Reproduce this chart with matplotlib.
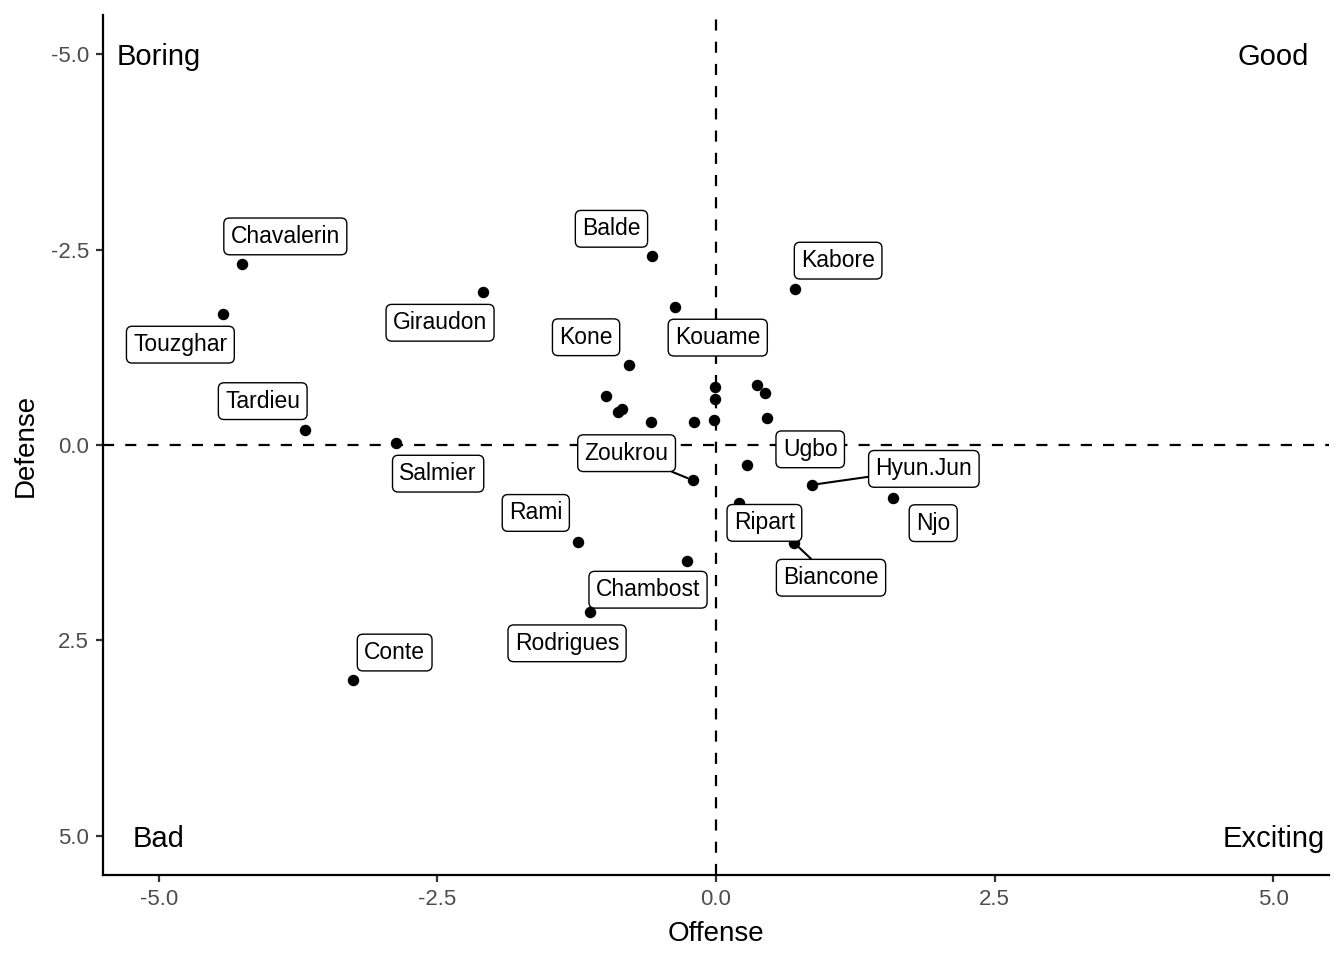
import matplotlib
matplotlib.use("Agg")
import matplotlib.pyplot as plt

plt.rcParams['font.family'] = ['Liberation Sans', 'DejaVu Sans']

# ---- data ----
players = ["Chavalerin", "Touzghar", "Tardieu", "Salmier", "Giraudon", "Balde",
           "Kabore", "Kouame", "Kone", "Zoukrou", "Ugbo", "Hyun.Jun", "Njo",
           "Ripart", "Biancone", "Rami", "Chambost", "Rodrigues", "Conte",
           "", "", "", "", "", "", "", "", "", "", ""]
offense = [-4.25, -4.42, -3.69, -2.87, -2.09, -0.57,
           0.71, -0.37, -0.78, -0.21, 0.28, 0.86, 1.59,
           0.21, 0.70, -1.24, -0.26, -1.13, -3.26,
           -0.99, -0.88, -0.84, -0.58, -0.20, -0.01, -0.01, -0.02, 0.37, 0.44, 0.46]
defense = [-2.31, -1.68, -0.19, -0.03, -1.96, -2.42,
           -2.00, -1.77, -1.02, 0.45, 0.26, 0.51, 0.68,
           0.74, 1.25, 1.24, 1.48, 2.14, 3.00,
           -0.63, -0.42, -0.46, -0.29, -0.29, -0.74, -0.59, -0.32, -0.77, -0.66, -0.34]

quadrant_text = ["Boring", "Good", "Bad", "Exciting"]
quadrant_x = [-5, 5, -5, 5]
quadrant_y = [-5, -5, 5, 5]

# label layout (pixel offsets from the point), and which labels get a leader segment
label_offsets = {
    "Chavalerin": (43, 29), "Touzghar": (-43, -30), "Tardieu": (-42, 30),
    "Salmier": (42, -30), "Giraudon": (-43, -30), "Balde": (-41, 28),
    "Kabore": (43, 29), "Kouame": (43, -30), "Kone": (-43, 29),
    "Zoukrou": (-66, 28), "Ugbo": (63, 17), "Hyun.Jun": (112, 17),
    "Njo": (40, -24), "Ripart": (25, -19), "Biancone": (37, -34),
    "Rami": (-42, 30), "Chambost": (-39, -28), "Rodrigues": (-23, -30),
    "Conte": (42, 28),
}
with_segment = {"Zoukrou", "Hyun.Jun", "Biancone"}

fig = plt.figure(figsize=(13.44, 9.6), dpi=100)
ax = fig.add_axes([103 / 1344, 1 - 875 / 960, (1329 - 103) / 1344, (875 - 15) / 960])

ax.axhline(0, color='black', lw=1.6, ls=(0, (5, 5)), zorder=1)
ax.axvline(0, color='black', lw=1.6, ls=(0, (5, 5)), zorder=1)

ax.scatter(offense, defense, s=68, color='black', zorder=3, linewidths=0)

for name, x, y in zip(players, offense, defense):
    if not name:
        continue
    dx, dy = label_offsets[name]
    arrow = None
    if name in with_segment:
        arrow = dict(arrowstyle='-', color='black', lw=1.5, shrinkA=0, shrinkB=4)
    ax.annotate(name, xy=(x, y), xytext=(dx, dy - 1), textcoords='offset pixels',
                ha='center', va='center', fontsize=16.5, color='black', zorder=5,
                bbox=dict(boxstyle='round,pad=0.3,rounding_size=0.25', fc='white',
                          ec='black', lw=1.0),
                arrowprops=arrow)

for t, x, y in zip(quadrant_text, quadrant_x, quadrant_y):
    ax.text(x, y, t, ha='center', va='center_baseline', fontsize=21, color='black', zorder=4)

ax.set_xlim(-5.5, 5.5)
ax.set_ylim(5.5, -5.5)
ax.set_xticks([-5, -2.5, 0, 2.5, 5])
ax.set_yticks([-5, -2.5, 0, 2.5, 5])
ax.set_xticklabels(["-5.0", "-2.5", "0.0", "2.5", "5.0"])
ax.set_yticklabels(["-5.0", "-2.5", "0.0", "2.5", "5.0"])

for s in ['top', 'right']:
    ax.spines[s].set_visible(False)
for s in ['left', 'bottom']:
    ax.spines[s].set_linewidth(1.6)
    ax.spines[s].set_color('black')
ax.tick_params(axis='both', length=5, width=1.6, color='#333333',
               labelsize=16, labelcolor='#4D4D4D', pad=5)

ax.set_xlabel("Offense", fontsize=20, color='black', labelpad=8)
ax.set_ylabel("Defense", fontsize=20, color='black', labelpad=9)

fig.savefig("out.png", dpi=100, facecolor='white')
